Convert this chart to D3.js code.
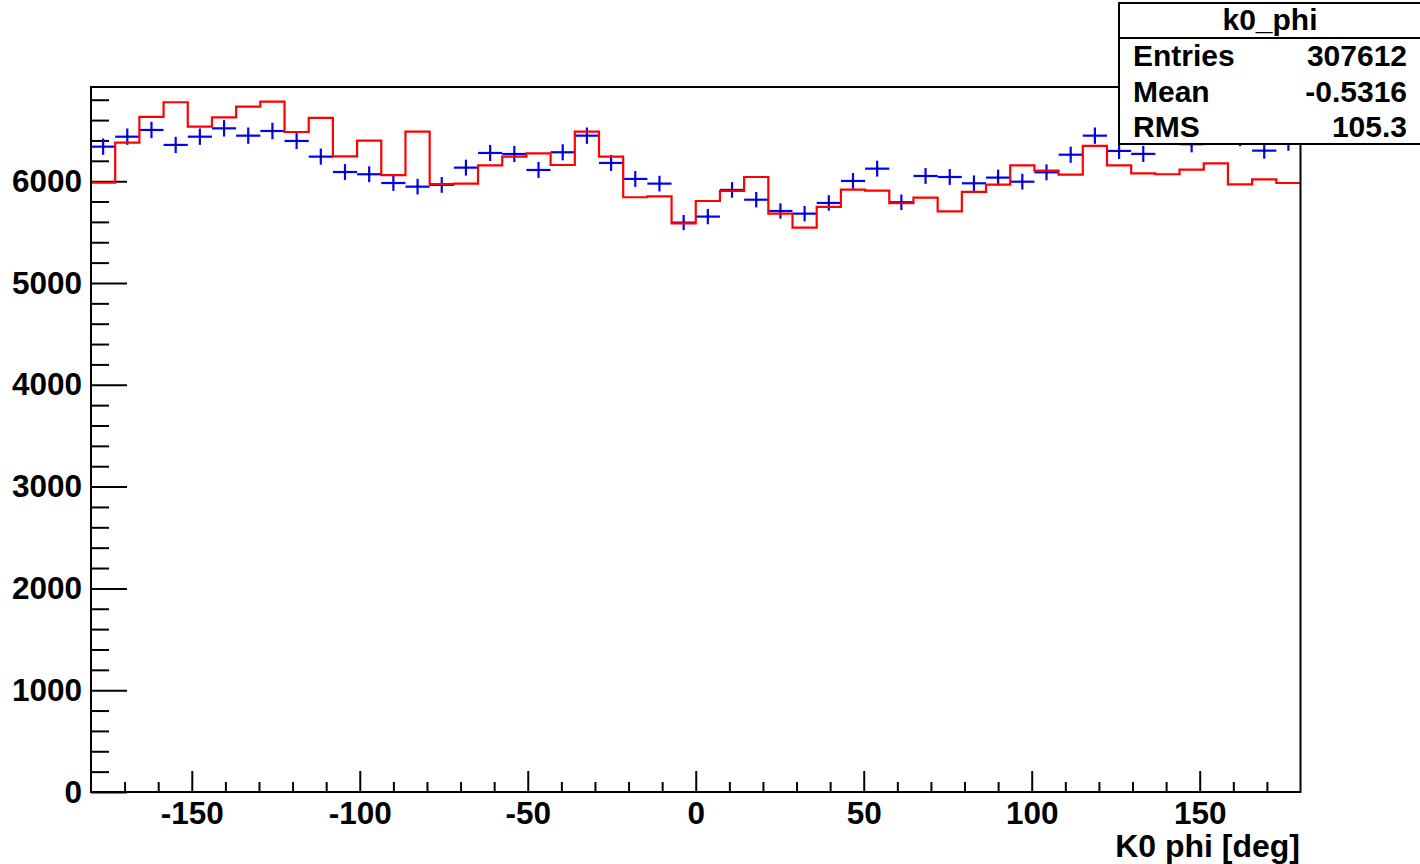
<!DOCTYPE html>
<html>
<head>
<meta charset="utf-8">
<script src="https://cdn.jsdelivr.net/npm/d3@7"></script>
<style>
  html, body { margin: 0; padding: 0; background: #fff; }
  svg { display: block; }
  text { font-family: "Liberation Sans", Arial, Helvetica, sans-serif; font-weight: bold; fill: #000; }
</style>
</head>
<body>
<svg id="chart" width="1420" height="864"></svg>
<script>
// ---- Data ----
const binEdgesRange = [-180, 180];
const nBins = 50;
// red histogram (outline)
const redCounts = [
  5985, 6378, 6631, 6775, 6535, 6627, 6732, 6781, 6483, 6621,
  6244, 6398, 6060, 6486, 5970, 5975, 6156, 6241, 6274, 6159,
  6486, 6241, 5842, 5850, 5586, 5805, 5904, 6041, 5681, 5543,
  5747, 5916, 5907, 5783, 5838, 5704, 5894, 5966, 6156, 6103,
  6064, 6346, 6156, 6077, 6068, 6113, 6175, 5969, 6018, 5982
];
// blue histogram (points with errors), k0_phi
const blueCounts = [
  6339, 6437, 6503, 6356, 6437, 6519, 6447, 6493, 6395, 6241,
  6090, 6068, 5982, 5946, 5963, 6133, 6277, 6267, 6110, 6284,
  6447, 6179, 6022, 5976, 5593, 5652, 5914, 5818, 5707, 5681,
  5786, 6002, 6123, 5793, 6051, 6041, 5979, 6035, 5995, 6087,
  6260, 6447, 6297, 6268, 6470, 6363, 6490, 6424, 6300, 6379
];
const xMajorTicks = [-150, -100, -50, 0, 50, 100, 150];
const yMajorTicks = [0, 1000, 2000, 3000, 4000, 5000, 6000];
const yMax = 6925;
const statsTitle = "k0_phi";
const statsLabels = ["Entries", "Mean", "RMS"];
const statsValues = ["307612", "-0.5316", "105.3"];
const xTitle = "K0 phi [deg]";

// ---- Layout ----
const svg = d3.select("#chart");
const L = 91, R = 1300.5, T = 87, B = 792;
const x = d3.scaleLinear().domain(binEdgesRange).range([L, R]);
const y = d3.scaleLinear().domain([0, yMax]).range([B, T]);
const bw = (binEdgesRange[1] - binEdgesRange[0]) / nBins;
const edge = i => binEdgesRange[0] + i * bw;

svg.append("rect").attr("width", 1420).attr("height", 864).attr("fill", "#fff");

// minor ticks
const yMinor = d3.range(0, yMax, 200).filter(v => v % 1000 !== 0);
const xMinor = d3.range(-170, 180, 10).filter(v => v % 50 !== 0);

const gyMinor = svg.append("g").attr("transform", `translate(${L},0)`)
  .call(d3.axisLeft(y).tickValues(yMinor).tickSizeInner(-18).tickSizeOuter(0).tickFormat(""));
const gy = svg.append("g").attr("transform", `translate(${L},0)`)
  .call(d3.axisLeft(y).tickValues(yMajorTicks).tickSizeInner(-36).tickSizeOuter(0).tickPadding(9)
    .tickFormat(d => String(d)));
const gxMinor = svg.append("g").attr("transform", `translate(0,${B})`)
  .call(d3.axisBottom(x).tickValues(xMinor).tickSizeInner(-10).tickSizeOuter(0).tickFormat(""));
const gx = svg.append("g").attr("transform", `translate(0,${B})`)
  .call(d3.axisBottom(x).tickValues(xMajorTicks).tickSizeInner(-21).tickSizeOuter(0).tickPadding(10)
    .tickFormat(d => String(d)));

[gyMinor, gy, gxMinor, gx].forEach(g => {
  g.select(".domain").remove();
  g.selectAll(".tick line").attr("stroke", "#000").attr("stroke-width", 2);
  g.selectAll(".tick text").style("font-size", "31.5px").attr("fill", "#000");
});

// blue points with errors
const blue = svg.append("g").attr("stroke", "#0000ff").attr("stroke-width", 2.2);
blueCounts.forEach((v, i) => {
  const xc = x(edge(i) + bw / 2);
  const err = Math.sqrt(v);
  blue.append("line").attr("x1", x(edge(i))).attr("x2", x(edge(i + 1)))
    .attr("y1", y(v)).attr("y2", y(v));
  blue.append("line").attr("x1", xc).attr("x2", xc)
    .attr("y1", y(v - err)).attr("y2", y(v + err));
});
svg.append("g").selectAll("rect").data(blueCounts).join("rect")
  .attr("x", (v, i) => x(edge(i) + bw / 2) - 1).attr("y", v => y(v) - 1)
  .attr("width", 2).attr("height", 2).attr("fill", "#000");

// red step outline
const redPts = redCounts.map((v, i) => [edge(i), v]);
redPts.push([binEdgesRange[1], redCounts[redCounts.length - 1]]);
svg.append("path")
  .attr("d", d3.line().x(d => x(d[0])).y(d => y(d[1])).curve(d3.curveStepAfter)(redPts))
  .attr("fill", "none").attr("stroke", "#ff0000").attr("stroke-width", 2.2);

// frame
svg.append("rect").attr("x", L).attr("y", T).attr("width", R - L).attr("height", B - T)
  .attr("fill", "none").attr("stroke", "#000").attr("stroke-width", 2);

// x title
svg.append("text").attr("x", 1300).attr("y", 857).attr("text-anchor", "end")
  .style("font-size", "32px").text(xTitle);

// stats box
const sb = svg.append("g");
sb.append("rect").attr("x", 1119).attr("y", 3).attr("width", 304).attr("height", 141)
  .attr("fill", "#fff").attr("stroke", "#000").attr("stroke-width", 2);
sb.append("line").attr("x1", 1119).attr("x2", 1422).attr("y1", 38).attr("y2", 38)
  .attr("stroke", "#000").attr("stroke-width", 2);
sb.append("text").attr("x", 1270).attr("y", 30).attr("text-anchor", "middle")
  .style("font-size", "30px").text(statsTitle);
const rowBase = [66, 102, 137];
statsLabels.forEach((s, i) => {
  sb.append("text").attr("x", 1133).attr("y", rowBase[i]).style("font-size", "30px").text(s);
  sb.append("text").attr("x", 1407).attr("y", rowBase[i]).attr("text-anchor", "end")
    .style("font-size", "30px").text(statsValues[i]);
});
</script>
</body>
</html>
